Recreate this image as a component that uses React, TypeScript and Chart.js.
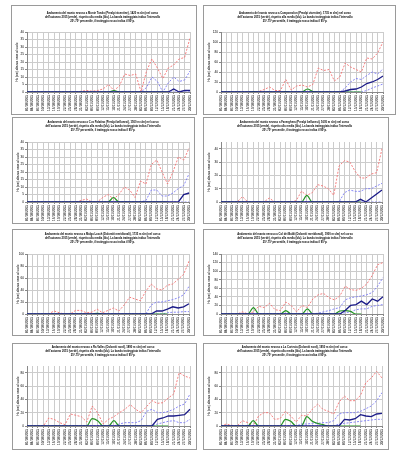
import React, { useEffect, useRef } from 'react';
import { Chart, registerables } from 'chart.js';
Chart.register(...registerables);

const dateLabels = [
  '01/10/2015', '04/10/2015', '07/10/2015', '10/10/2015', '13/10/2015', '16/10/2015', '19/10/2015', '22/10/2015',
  '25/10/2015', '28/10/2015', '31/10/2015', '03/11/2015', '06/11/2015', '09/11/2015', '12/11/2015', '15/11/2015',
  '18/11/2015', '21/11/2015', '24/11/2015', '27/11/2015', '30/11/2015', '03/12/2015', '06/12/2015', '09/12/2015',
  '12/12/2015', '15/12/2015', '18/12/2015', '21/12/2015', '24/12/2015', '27/12/2015', '30/12/2015',
];

const yAxisTitle = 'Hs (cm) altezza neve al suolo';
const titleTail = [
  "dell'autunno 2015 (verde), rispetto alla media (blu). La banda tratteggiata indica l'intervallo",
  '25°-75° percentile, il tratteggio rosso indica il 95°p.',
];

// 1 Monte Tondo
const tondoP95 = [0,0,0,0,0,0,0,0,0,0, 0.5,1,0.5,1,2,5,1,4,12,11, 12,0,14,22,16,9,16,18,22,23, 36];
const tondoP75 = [0,0,0,0,0,0,0,0,0,0, 0,0,0,0,0,0,0,0,0,0, 0,0,3,10,7,0,6,10,7,8, 14];
const tondoP25 = [0,0,0,0,0,0,0,0,0,0, 0,0,0,0,0,0,0,0,0,0, 0,0,0,0,0,0,0,0,0,0, 0];
const tondoMedia = [0,0,0,0,0,0,0,0,0,0, 0,0,0,0,0,0,0,0,0,0, 0,0,0,0,0,0,0,2,0,1, 1];
const tondo2015 = [0,0,0,0,0,0,0,0,0,0, 0,0,0,0,0,0,1,0,0,0, 0,0,0,0,0,0,0,null,null,null, null];

// 2 Campomolon
const campoP95 = [0,0,0,0,0,0,0,1,5,10, 3,3,25,4,12,14,10,15,48,43, 45,22,30,58,50,45,40,68,66,78, 100];
const campoP75 = [0,0,0,0,0,0,0,0,0,0, 0,0,0,0,0,0,0,0,0,0, 0,0,0,8,20,27,25,33,40,36, 46];
const campoP25 = [0,0,0,0,0,0,0,0,0,0, 0,0,0,0,0,0,0,0,0,0, 0,0,0,0,0,0,0,3,8,12, 16];
const campoMedia = [0,0,0,0,0,0,0,0,0,0, 0,0,0,0,0,0,0,0,0,0, 0,0,0,2,5,6,10,17,20,25, 32];
const campo2015 = [0,0,0,0,0,0,1,0,0,0, 0,0,1,0,0,0,6,1,0,0, 0,0,0,0,0,0,0,null,null,null, null];

// 3 C.ra Palatina
const palaP95 = [0,0,0,0,0,0,0,0,0,0, 1,2,0,0,3,5,2,5,10,8, 3,14,12,25,28,20,12,20,30,28, 36];
const palaP75 = [0,0,0,0,0,0,0,0,0,0, 0,0,0,0,0,0,0,0,0,0, 0,0,1,8,8,4,4,6,9,11, 19];
const palaP25 = [0,0,0,0,0,0,0,0,0,0, 0,0,0,0,0,0,0,0,0,0, 0,0,0,0,0,0,0,0,0,0, 0];
const palaMedia = [0,0,0,0,0,0,0,0,0,0, 0,0,0,0,0,0,0,0,0,0, 0,0,0,0,0,0,0,0,0,5, 6];
const pala2015 = [0,0,0,0,0,0,0,0,0,0, 0,0,0,0,0,0,3,0,0,0, 0,0,0,0,0,0,0,null,null,null, null];

// 4 Faverghera
const faveP95 = [0,0,0,0,4,0,0,0,0,3, 0,0,0,0,1,8,5,7,13,12, 10,5,27,31,30,23,18,18,21,22, 40];
const faveP75 = [0,0,0,0,0,0,0,0,0,0, 0,0,0,0,0,0,0,0,0,0, 0,0,0,7,9,8,8,10,10,12, 14];
const faveP25 = [0,0,0,0,0,0,0,0,0,0, 0,0,0,0,0,0,0,0,0,0, 0,0,0,0,0,0,0,0,0,0, 0];
const faveMedia = [0,0,0,0,0,0,0,0,0,0, 0,0,0,0,0,0,0,0,0,0, 0,0,0,0,0,0,2,0,3,6, 9];
const fave2015 = [0,0,0,0,0,0,0,0,0,0, 0,0,0,0,0,0,5,0,0,0, 0,0,0,0,0,0,0,null,null,null, null];

// 5 Malga Losch
const loschP95 = [0,0,0,0,0,5,2,0,0,6, 6,2,3,8,2,6,10,5,15,28, 25,22,38,50,42,40,48,50,58,66, 88];
const loschP75 = [0,0,0,0,0,0,0,0,0,0, 0,0,0,0,0,0,0,0,0,0, 0,0,0,15,20,20,22,24,27,32, 46];
const loschP25 = [0,0,0,0,0,0,0,0,0,0, 0,0,0,0,0,0,0,0,0,0, 0,0,0,0,0,0,2,3,3,4, 4];
const loschMedia = [0,0,0,0,0,0,0,0,0,0, 0,0,0,0,0,0,0,0,0,0, 0,0,0,0,5,5,8,12,10,12, 17];
const losch2015 = [0,0,0,0,0,0,0,0,0,0, 0,0,0,1,0,0,0,0,0,0, 0,0,0,0,0,0,0,null,null,null, null];

// 6 Col dei Baldi
const baldiP95 = [0,0,0,0,5,0,5,18,15,25, 10,8,28,20,5,20,15,35,45,48, 38,33,42,65,57,55,60,70,90,115, 120];
const baldiP75 = [0,0,0,0,0,0,0,0,0,0, 0,0,0,0,0,0,0,0,2,5, 8,12,15,33,38,40,42,45,50,65, 85];
const baldiP25 = [0,0,0,0,0,0,0,0,0,0, 0,0,0,0,0,0,0,0,0,0, 0,0,0,3,5,10,12,12,18,20, 22];
const baldiMedia = [0,0,0,0,0,0,0,0,0,0, 0,0,0,0,0,0,0,0,0,0, 0,0,0,8,20,22,30,22,35,30, 40];
const baldi2015 = [0,0,0,0,0,0,15,0,0,0, 0,0,8,0,0,0,12,0,0,0, 0,0,7,8,6,0,0,null,null,null, null];

// 7 Ra Valles
const vallesP95 = [0,0,0,0,12,10,5,2,18,16, 14,6,30,20,3,10,14,20,25,32, 25,20,29,38,34,35,42,48,80,75, 72];
const vallesP75 = [0,0,0,0,0,0,0,0,0,0, 0,0,0,0,0,0,0,3,5,5, 5,8,22,25,20,20,22,25,30,33, 48];
const vallesP25 = [0,0,0,0,0,0,0,0,0,0, 0,0,0,0,0,0,0,0,0,0, 0,0,0,0,3,5,7,8,5,5, 10];
const vallesMedia = [0,0,0,0,0,0,0,0,0,0, 0,0,0,0,0,0,0,0,0,0, 0,0,0,0,10,12,15,15,16,17, 25];
const valles2015 = [0,0,0,0,0,0,0,0,0,0, 0,0,11,8,0,0,8,0,0,0, 0,0,0,0,0,0,0,null,null,null, null];

// 8 Cortecia
const cortP95 = [0,3,1,0,8,5,0,15,20,20, 10,11,22,15,6,16,15,25,33,25, 22,18,36,45,38,38,46,65,72,82, 72];
const cortP75 = [0,0,0,0,0,0,0,0,0,0, 0,0,0,0,0,3,3,4,4,5, 5,8,18,20,20,20,22,26,30,38, 50];
const cortP25 = [0,0,0,0,0,0,0,0,0,0, 0,0,0,0,0,0,0,0,0,0, 0,0,3,4,5,6,7,8,9,10, 10];
const cortMedia = [0,0,0,0,0,0,0,0,0,0, 0,0,0,0,0,0,0,0,0,0, 0,0,0,10,9,11,17,15,14,18, 19];
const cort2015 = [0,0,0,0,0,0,8,0,0,0, 0,0,10,7,0,0,14,7,4,2, 0,0,0,0,0,0,0,null,null,null, null];

type Panel = {
  station: string;
  yMax: number;
  yStep: number;
  p95: number[];
  p75: number[];
  p25: number[];
  media: number[];
  y2015: (number | null)[];
  box: [number, number, number, number];
  plot: [number, number, number, number];
  title1: number;
};

const panels: Panel[] = [
  { station: 'Monte Tondo (Prealpi vicentine), 1420 m slm)', yMax: 40, yStep: 5, p95: tondoP95, p75: tondoP75, p25: tondoP25, media: tondoMedia, y2015: tondo2015,
    box: [11, 5, 186, 110], plot: [27, 32, 190, 92], title1: 13 },
  { station: 'Campomolon (Prealpi vicentine), 1735 m slm)', yMax: 120, yStep: 20, p95: campoP95, p75: campoP75, p25: campoP25, media: campoMedia, y2015: campo2015,
    box: [203, 5, 193, 110], plot: [221, 32, 383, 92], title1: 13 },
  { station: 'C.ra Palatina (Prealpi bellunesi), 1500 m slm)', yMax: 40, yStep: 5, p95: palaP95, p75: palaP75, p25: palaP25, media: palaMedia, y2015: pala2015,
    box: [12, 117, 183, 107], plot: [27, 142, 190, 202], title1: 122 },
  { station: 'Faverghera (Prealpi bellunesi), 1605 m slm)', yMax: 45, yStep: 5, p95: faveP95, p75: faveP75, p25: faveP25, media: faveMedia, y2015: fave2015,
    box: [203, 117, 186, 107], plot: [221, 142, 382, 202], title1: 122 },
  { station: 'Malga Losch (Dolomiti meridionali), 1735 m slm)', yMax: 100, yStep: 10, p95: loschP95, p75: loschP75, p25: loschP25, media: loschMedia, y2015: losch2015,
    box: [12, 229, 183, 107], plot: [27, 254, 189, 314], title1: 234 },
  { station: 'Col dei Baldi (Dolomiti meridionali), 1900 m slm)', yMax: 140, yStep: 20, p95: baldiP95, p75: baldiP75, p25: baldiP25, media: baldiMedia, y2015: baldi2015,
    box: [203, 229, 186, 107], plot: [221, 254, 383, 314], title1: 234 },
  { station: 'Ra Valles (Dolomiti nord), 1890 m slm)', yMax: 90, yStep: 10, p95: vallesP95, p75: vallesP75, p25: vallesP25, media: vallesMedia, y2015: valles2015,
    box: [12, 343, 185, 107], plot: [27, 366, 190, 426], title1: 347 },
  { station: 'La Cortecia (Dolomiti nord), 1950 m slm)', yMax: 90, yStep: 10, p95: cortP95, p75: cortP75, p25: cortP25, media: cortMedia, y2015: cort2015,
    box: [203, 343, 186, 107], plot: [221, 366, 382, 426], title1: 347 },
];

const FONT = '"Liberation Sans", Arial, sans-serif';
const TITLE_SIZE = 2.7;
const TITLE_LH = 1.6;
const X_HEIGHT = 19;
const PAD_LEFT = 3;

function ChartPanel({ p }: { p: Panel }) {
  const ref = useRef<HTMLCanvasElement>(null);
  const [bl, bt, bw, bh] = p.box;
  const cw = bw - 2;
  const ch = bh - 2;
  const cl = bl + 1;
  const ct = bt + 1;
  const [pl, pt, pr, pb] = p.plot;

  useEffect(() => {
    if (!ref.current) return;
    const lineH = TITLE_SIZE * TITLE_LH;
    const titlePadTop = p.title1 - ct - lineH / 2;
    const titlePadBottom = pt - ct - titlePadTop - 3 * lineH;
    const yWidth = pl - cl - PAD_LEFT;
    const padRight = cl + cw - pr;
    const padBottom = ct + ch - pb - X_HEIGHT;
    const gridColor = '#cccccc';
    const chart = new Chart(ref.current, {
      type: 'line',
      data: {
        labels: dateLabels,
        datasets: [
          { label: 'Media', data: p.media, borderColor: '#1c1c88', borderWidth: 1.3, pointRadius: 0, tension: 0 },
          { label: 'Autunno 2015', data: p.y2015, borderColor: '#259425', borderWidth: 1.2, pointRadius: 0, cubicInterpolationMode: 'monotone' },
          { label: '25° percentile', data: p.p25, borderColor: '#7b7bf5', borderWidth: 0.9, borderDash: [2, 1.5], pointRadius: 0 },
          { label: '75° percentile', data: p.p75, borderColor: '#7b7bf5', borderWidth: 0.9, borderDash: [2, 1.5], pointRadius: 0 },
          { label: '95° percentile', data: p.p95, borderColor: '#f57272', borderWidth: 0.9, borderDash: [2, 1.5], pointRadius: 0 },
        ],
      },
      options: {
        animation: false,
        responsive: false,
        devicePixelRatio: 1,
        layout: { padding: { left: PAD_LEFT, right: padRight, top: 0, bottom: padBottom } },
        plugins: {
          legend: { display: false },
          tooltip: { enabled: false },
          title: {
            display: true,
            text: ['Andamento del manto nevoso a ' + p.station + ' nel corso', ...titleTail],
            color: '#000',
            font: { family: FONT, size: TITLE_SIZE, weight: 'bold', lineHeight: TITLE_LH },
            padding: { top: titlePadTop, bottom: titlePadBottom },
          },
        },
        scales: {
          x: {
            grid: { color: gridColor, lineWidth: 1, tickLength: 2, tickColor: '#888' },
            border: { color: '#888' },
            ticks: { autoSkip: false, minRotation: 90, maxRotation: 90, color: '#000', padding: 1, font: { family: FONT, size: 3.2 } },
            afterFit: (s: any) => { s.height = X_HEIGHT; },
          },
          y: {
            min: 0,
            max: p.yMax,
            grid: { color: gridColor, lineWidth: 1, tickLength: 2, tickColor: '#888' },
            border: { color: '#888' },
            ticks: { stepSize: p.yStep, color: '#000', padding: 1, font: { family: FONT, size: 3.2 } },
            title: { display: true, text: yAxisTitle, color: '#000', padding: 0, font: { family: FONT, size: 3 } },
            afterFit: (s: any) => { s.width = yWidth; },
          },
        },
      },
    } as any);
    return () => chart.destroy();
  }, []);

  return (
    <div style={{ position: 'absolute', left: bl, top: bt, width: bw, height: bh, boxSizing: 'border-box', border: '1px solid #9a9a9a', background: '#fff' }}>
      <canvas ref={ref} width={cw} height={ch} style={{ display: 'block', width: cw, height: ch }} />
    </div>
  );
}

export default function App() {
  return (
    <div style={{ position: 'absolute', left: 0, top: 0, width: 400, height: 458, background: '#fff', overflow: 'hidden' }}>
      {panels.map((p, i) => <ChartPanel key={i} p={p} />)}
    </div>
  );
}
